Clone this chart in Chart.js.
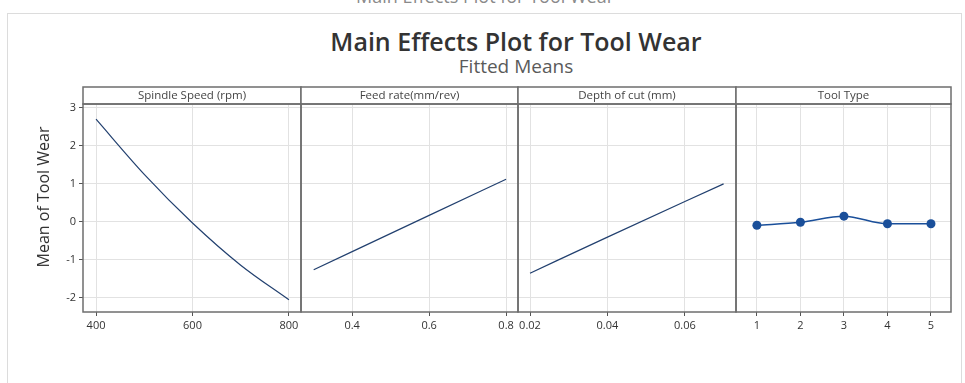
<!DOCTYPE html>
<html>
<head>
<meta charset="utf-8">
<script src="https://cdn.jsdelivr.net/npm/chart.js@4.4.1/dist/chart.umd.min.js"></script>
<style>
  html, body { margin: 0; padding: 0; background: #fff; }
  #wrap { position: relative; width: 965px; height: 383px; overflow: hidden; background: #fff; font-family: "Open Sans", sans-serif; }
  #frame { position: absolute; left: 7px; top: 13px; width: 955px; height: 420px; border: 1px solid #dcdcdc; box-sizing: border-box; }
  #ghost { position: absolute; left: 0; width: 970px; top: -14px; line-height: 20px; text-align: center; font-size: 18px; color: #8a8a8a; }
  #title { position: absolute; left: 0; width: 1032px; top: 24px; line-height: 34px; text-align: center; font-size: 25px; font-weight: 600; color: #333; }
  #subtitle { position: absolute; left: 0; width: 1032px; top: 54px; line-height: 24px; text-align: center; font-size: 19px; color: #5a5a5a; }
  #ytitle { position: absolute; left: 43px; top: 197px; width: 200px; margin-left: -100px; line-height: 20px; margin-top: -10px; text-align: center; font-size: 16px; color: #333; transform: rotate(-90deg); }
  #chart { position: absolute; left: 0; top: 0; }
</style>
</head>
<body>
<div id="wrap">
  <div id="ghost">Main Effects Plot for Tool Wear</div>
  <div id="frame"></div>
  <div id="title">Main Effects Plot for Tool Wear</div>
  <div id="subtitle">Fitted Means</div>
  <canvas id="chart" width="965" height="383"></canvas>
  <div id="ytitle">Mean of Tool Wear</div>
</div>
<script>
// Fitted means of tool wear for each factor
const spindleSpeed = [400, 500, 600, 700, 800];
const spindleMeans = [2.70, 1.25, -0.03, -1.14, -2.05];

const feedRate = [0.3, 0.6, 0.8];
const feedMeans = [-1.26, 0.17, 1.12];

const depthOfCut = [0.02, 0.04, 0.07];
const depthMeans = [-1.35, -0.40, 1.00];

const toolType = [1, 2, 3, 4, 5];
const toolMeans = [-0.09, -0.01, 0.15, -0.05, -0.05];

// Tick values and labels
const yTicks = [-2, -1, 0, 1, 2, 3];
const speedTicks = [400, 600, 800];
const speedLabels = ['400', '600', '800'];
const feedTicks = [0.4, 0.6, 0.8];
const feedLabels = ['0.4', '0.6', '0.8'];
const depthTicks = [0.02, 0.04, 0.06];
const depthLabels = ['0.02', '0.04', '0.06'];
const toolTicks = [1, 2, 3, 4, 5];
const toolLabels = ['1', '2', '3', '4', '5'];

const LINE = '#22406f';
const MARK = '#1a4f9a';
const GRID = '#e2e2e2';
const FRAME = '#6e6e6e';
const HEADER_H = 17;

const panels = [
  { id: 'xSpeed', title: 'Spindle Speed (rpm)', x: spindleSpeed, y: spindleMeans, ticks: speedTicks, labels: speedLabels, min: 373, max: 825, weight: 218, points: false },
  { id: 'xFeed', title: 'Feed rate(mm/rev)', x: feedRate, y: feedMeans, ticks: feedTicks, labels: feedLabels, min: 0.267, max: 0.831, weight: 217, points: false },
  { id: 'xDepth', title: 'Depth of cut (mm)', x: depthOfCut, y: depthMeans, ticks: depthTicks, labels: depthLabels, min: 0.0169, max: 0.0732, weight: 218, points: false },
  { id: 'xTool', title: 'Tool Type', x: toolType, y: toolMeans, ticks: toolTicks, labels: toolLabels, min: 0.52, max: 5.46, weight: 215, points: true }
];

const tickFont = { family: 'Open Sans', size: 11 };

const scales = {
  y: {
    type: 'linear',
    position: 'left',
    min: -2.37,
    max: 3.1,
    afterBuildTicks: (s) => { s.ticks = yTicks.map(v => ({ value: v })); },
    afterFit: (s) => { s.width = 83; },
    grid: { color: GRID, tickColor: '#555', tickLength: 4, lineWidth: 1 },
    border: { display: false },
    ticks: { font: tickFont, color: '#333', padding: 3, callback: (v) => String(v) },
    title: { display: false }
  }
};

panels.forEach(p => {
  scales[p.id] = {
    type: 'linear',
    position: 'bottom',
    stack: 'panels',
    stackWeight: p.weight,
    min: p.min,
    max: p.max,
    afterBuildTicks: (s) => { s.ticks = p.ticks.map(v => ({ value: v })); },
    afterFit: (s) => { s.height = 31; },
    grid: { color: GRID, tickColor: '#555', tickLength: 4, lineWidth: 1 },
    border: { display: false },
    ticks: { font: tickFont, color: '#333', padding: 3, maxRotation: 0, autoSkip: false, callback: (v, i) => p.labels[i] }
  };
});

const datasets = panels.map(p => ({
  label: p.title,
  data: p.x.map((xv, i) => ({ x: xv, y: p.y[i] })),
  xAxisID: p.id,
  yAxisID: 'y',
  borderColor: p.points ? MARK : LINE,
  backgroundColor: MARK,
  borderWidth: p.points ? 1.5 : 1.2,
  pointRadius: p.points ? 4.5 : 0,
  pointHoverRadius: p.points ? 4.5 : 0,
  pointBorderWidth: 0,
  cubicInterpolationMode: 'monotone',
  tension: 0,
  fill: false
}));

// Draws the panel boxes, strip headers and their labels
const panelFrame = {
  id: 'panelFrame',
  afterDraw(chart) {
    const { ctx, chartArea: a } = chart;
    const top = a.top - HEADER_H;
    ctx.save();
    ctx.strokeStyle = FRAME;
    ctx.lineWidth = 1.5;
    ctx.font = '11.5px "Open Sans"';
    ctx.textAlign = 'center';
    ctx.textBaseline = 'middle';
    panels.forEach(p => {
      const s = chart.scales[p.id];
      ctx.fillStyle = '#fff';
      ctx.fillRect(s.left, top, s.right - s.left, HEADER_H);
      ctx.strokeRect(s.left, top, s.right - s.left, HEADER_H);
      ctx.strokeRect(s.left, a.top, s.right - s.left, a.bottom - a.top);
      ctx.fillStyle = '#444';
      ctx.fillText(p.title, (s.left + s.right) / 2, top + HEADER_H / 2 + 0.5);
    });
    ctx.restore();
  }
};

new Chart(document.getElementById('chart'), {
  type: 'line',
  data: { datasets },
  options: {
    responsive: false,
    animation: false,
    devicePixelRatio: 1,
    layout: { padding: { left: 0, top: 104, right: 14, bottom: 40 } },
    plugins: { legend: { display: false }, tooltip: { enabled: false }, title: { display: false } },
    scales
  },
  plugins: [panelFrame]
});
</script>
</body>
</html>
